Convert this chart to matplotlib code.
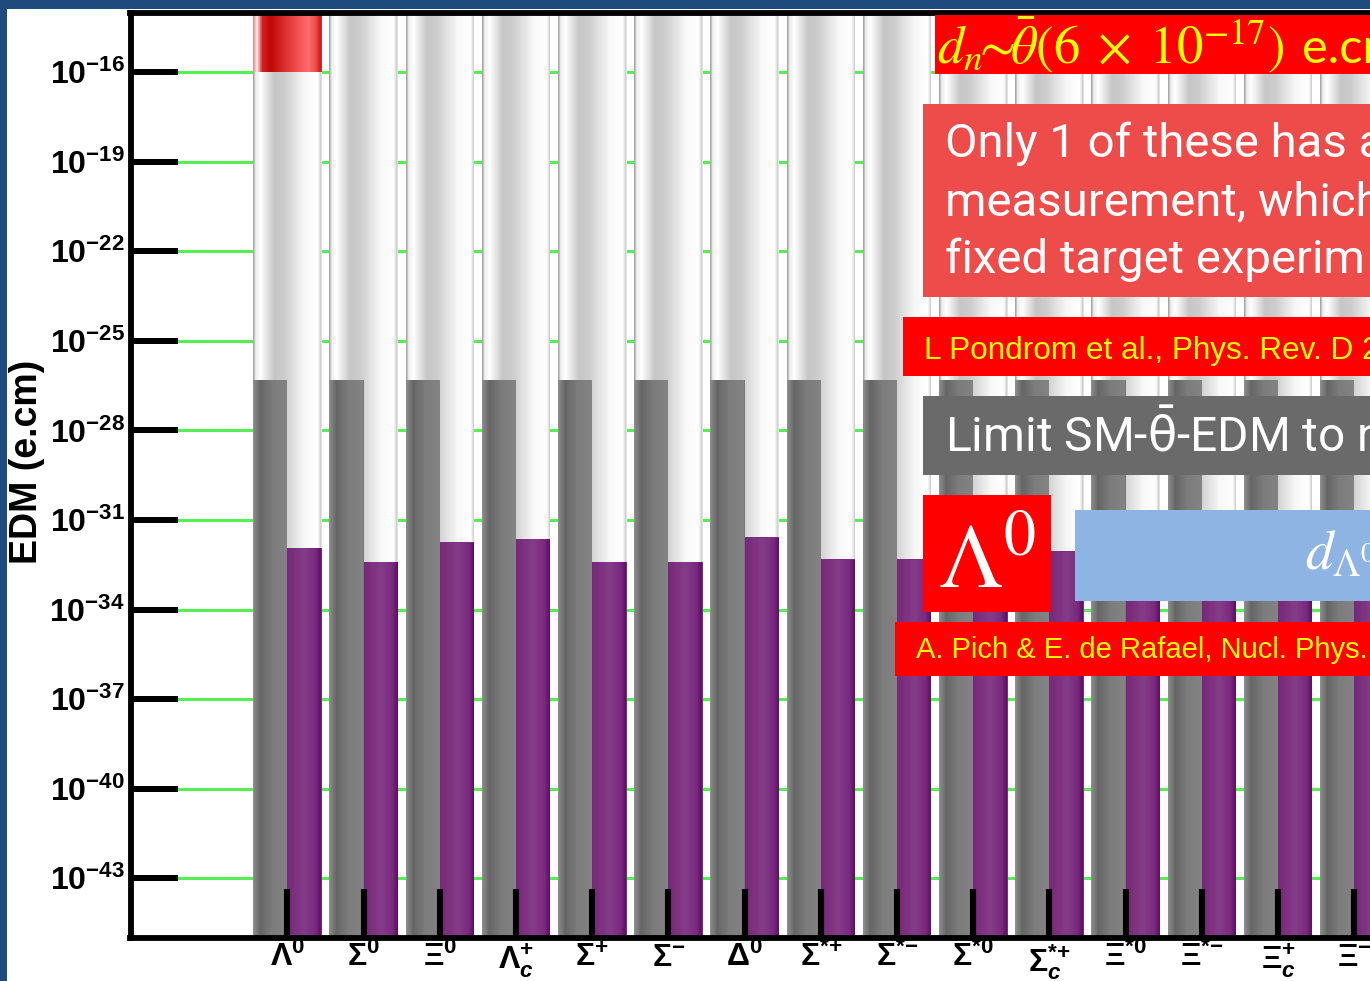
import matplotlib
matplotlib.use('Agg')
import matplotlib.pyplot as plt
import numpy as np
from matplotlib.colors import LinearSegmentedColormap
from matplotlib.patches import Rectangle
from matplotlib.ticker import NullLocator

plt.rcParams['mathtext.fontset'] = 'custom'
plt.rcParams['mathtext.rm'] = 'Liberation Sans'
plt.rcParams['mathtext.it'] = 'Liberation Sans:italic'
plt.rcParams['mathtext.bf'] = 'Liberation Sans:bold'
plt.rcParams['mathtext.bfit'] = 'Liberation Sans:italic:bold'

# ---- data ----
baryons = [r'\Lambda^{0}', r'\Sigma^{0}', r'\Xi^{0}', r'\Lambda_{\mathbfit{c}}^{+}',
           r'\Sigma^{+}', r'\Sigma^{-}', r'\Delta^{0}', r'\Sigma^{*{+}}',
           r'\Sigma^{*{-}}', r'\Sigma^{*0}', r'\Sigma_{\mathbfit{c}}^{*{+}}',
           r'\Xi^{*0}', r'\Xi^{*{-}}', r'\Xi_{\mathbfit{c}}^{+}', r'\Xi^{-}']
sm_limit = [5e-27] * 15          # grey bars
theta_edm = [1.2e-32, 4e-33, 1.8e-32, 2.4e-32, 4e-33, 4e-33, 2.6e-32, 4.8e-33,
             4.8e-33, 4.8e-33, 8.9e-33, 1.5e-32, 1.5e-32, 2e-32, 1.5e-32]  # purple bars
measured_idx = [0]               # only Lambda0 has a measurement
measured_edm = [1e-16]
ytick_exp = [-16, -19, -22, -25, -28, -31, -34, -37, -40, -43]
y_lo, y_hi = 1e-45, 1e-14

# ---- figure ----
W, H = 1370, 981
fig = plt.figure(figsize=(W / 100, H / 100), dpi=100)


def fx(x):
    return x / W


def fy(y):
    return 1 - y / H


x_lo, x_hi = -2.06, 14.6
unit = 76.2
ax_l, ax_t, ax_b = 130.5, 12.5, 938
ax_r = ax_l + (x_hi - x_lo) * unit
ax = fig.add_axes([fx(ax_l), fy(ax_b), (ax_r - ax_l) / W, (ax_b - ax_t) / H])
ax.set_yscale('log')

col_grad = [(0, '#a6a6a6'), (0.03, '#eeeeee'), (0.1, '#ffffff'), (0.3, '#c6c6c6'),
            (0.45, '#cdcdcd'), (0.75, '#f8f8f8'), (0.94, '#ffffff'), (0.98, '#d0d0d0'),
            (1, '#a0a0a0')]
grey_grad = [(0, '#8c8c8c'), (0.2, '#666666'), (0.55, '#7c7c7c'), (1, '#848484')]
purp_grad = [(0, '#782879'), (0.5, '#843c88'), (0.82, '#7a2a7e'), (1, '#5a0a5e')]
red_grad = [(0, '#e89090'), (0.05, '#fff0f0'), (0.13, '#d02020'), (0.25, '#c00808'),
            (0.5, '#e03838'), (0.8, '#ff6a6a'), (0.9, '#f05050'), (1, '#c01010')]


def grad_fill(bar, colors):
    cm = LinearSegmentedColormap.from_list('g', colors)
    x0, y0 = bar.get_x(), bar.get_y()
    x1, y1 = x0 + bar.get_width(), y0 + bar.get_height()
    im = ax.imshow(np.linspace(0, 1, 256)[None, :], extent=(x0, x1, y0, y1),
                   aspect='auto', cmap=cm, interpolation='bilinear',
                   zorder=bar.get_zorder() + 0.01)
    im.set_clip_path(bar)


xs = np.arange(len(baryons))
for v in ytick_exp:
    ax.axhline(10.0 ** v, color='#55ee55', lw=2.2, zorder=0.5)

cols = ax.bar(xs, y_hi - y_lo, bottom=y_lo, width=0.9, color='#e0e0e0', zorder=1)
for b in cols:
    grad_fill(b, col_grad)
greys = ax.bar(xs - 0.45, np.array(sm_limit) - y_lo, bottom=y_lo, width=0.45,
               align='edge', color='#777777', zorder=1.2)
for b in greys:
    grad_fill(b, grey_grad)
purps = ax.bar(xs, np.array(theta_edm) - y_lo, bottom=y_lo, width=0.45,
               align='edge', color='#7b2d80', zorder=1.2)
for b in purps:
    grad_fill(b, purp_grad)
reds = ax.bar(xs[measured_idx], y_hi - np.array(measured_edm), bottom=measured_edm,
              width=0.9, color='#e03030', zorder=1.2)
for b in reds:
    grad_fill(b, red_grad)

ax.set_xlim(x_lo, x_hi)
ax.set_ylim(y_lo, y_hi)
ax.set_yticks([10.0 ** e for e in ytick_exp],
              [rf'$\mathbf{{10^{{{e}}}}}$' for e in ytick_exp])
ax.yaxis.set_minor_locator(NullLocator())
ax.set_xticks(xs, [rf'$\mathbf{{{b}}}$' for b in baryons])
ax.tick_params(axis='y', direction='in', length=34, width=4.3, labelsize=23, pad=4,
               color='black')
ax.tick_params(axis='x', direction='in', length=35, width=4.4, labelsize=23, pad=3,
               color='black')
for s in ax.spines.values():
    s.set_linewidth(4.2)

fig.text(fx(27), fy(462), 'EDM (e.cm)', rotation=90, fontsize=27, fontweight='bold',
         family='Liberation Sans', ha='center', va='center')


# ---- slide overlays ----
def box(x0, y0, x1, y1, color):
    fig.add_artist(Rectangle((fx(x0), fy(y1)), (x1 - x0) / W, (y1 - y0) / H,
                             transform=fig.transFigure, facecolor=color,
                             edgecolor='none', zorder=5))


def txt(x, y, s, **kw):
    fig.text(fx(x), fy(y), s, va='baseline', ha='left', zorder=6, **kw)


box(0, 0, 7, H, '#1f4a7e')
box(0, 0, W, 9, '#1f4a7e')

box(935, 15, W, 74, '#ff0000')
txt(937, 63, r'$d_n\!\!\sim\!\!\bar{\theta}(6\;\times\;10^{-17})$', color='#ffff00',
    fontsize=38, math_fontfamily='stix')
txt(1302, 63, 'e.cm', color='#ffff00', fontsize=35, family='Lato')

box(923, 104, W, 297, '#ee4b4b')
for i, line in enumerate(['Only 1 of these has a', 'measurement, which',
                          'fixed target experim']):
    txt(945, 157 + 58 * i, line, color='white', fontsize=34, family='Roboto')

box(903, 317, W, 376, '#ff0000')
txt(924, 359, 'L Pondrom et al., Phys. Rev. D 2', color='#ffff00', fontsize=22.7,
    family='Liberation Sans')

box(923, 396, W, 475, '#6a6a6a')
txt(945, 452, r'Limit SM-$\bar{\mathrm{\theta}}$-EDM to n', color='white',
    fontsize=34.5, family='Roboto', math_fontfamily='dejavusans')

box(923, 495, 1051, 612, '#ff0000')
txt(938, 588, r'$\Lambda^0$', color='white', fontsize=66, math_fontfamily='stix')

box(1075, 510, W, 601, '#8eb4e3')
txt(1305, 568, r'$d_{\Lambda^0}$', color='white', fontsize=40, math_fontfamily='stix')

box(895, 622, W, 676, '#ff0000')
txt(916, 658, 'A. Pich & E. de Rafael, Nucl. Phys.', color='#ffff00', fontsize=21,
    family='Liberation Sans')

fig.savefig('out.png', dpi=100)
